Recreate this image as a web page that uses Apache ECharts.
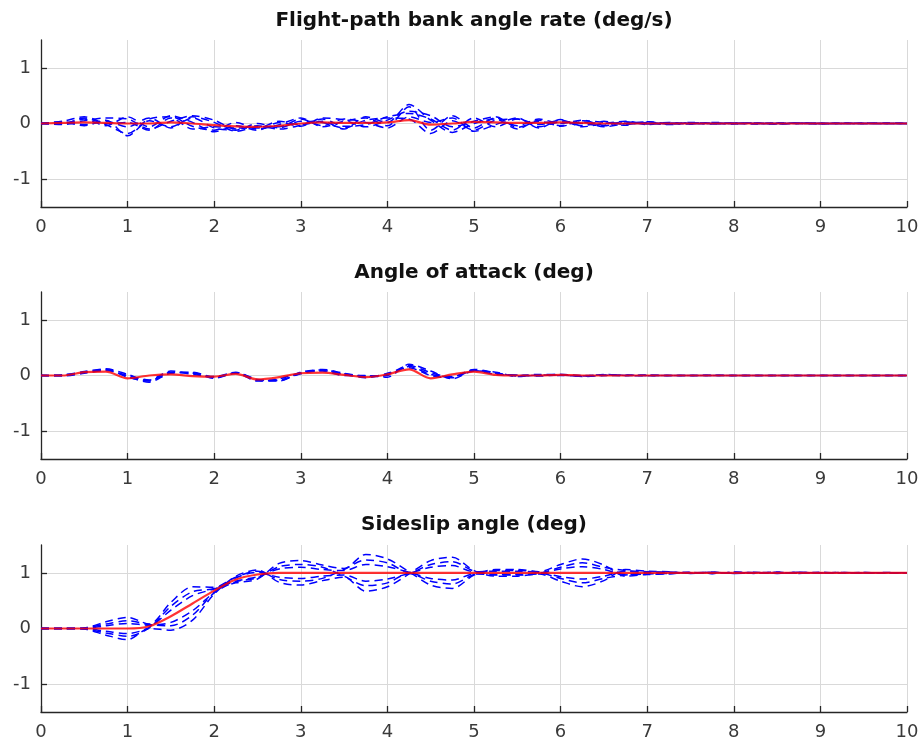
<!DOCTYPE html>
<html>
<head>
<meta charset="utf-8">
<script src="https://cdn.jsdelivr.net/npm/echarts@6/dist/echarts.min.js"></script>
<style>
html,body{margin:0;padding:0;background:#fff;}
#chart{width:924px;height:746px;}
</style>
</head>
<body>
<div id="chart"></div>
<script>
// ---- data ----
const titles = ['Flight-path bank angle rate (deg/s)', 'Angle of attack (deg)', 'Sideslip angle (deg)'];
const xTicks = [0,1,2,3,4,5,6,7,8,9,10];
const yTicks = [-1,0,1];
const time = [0,0.25,0.5,0.75,1,1.25,1.5,1.75,2,2.25,2.5,2.75,3,3.25,3.5,3.75,4,4.25,4.5,4.75,5,5.25,5.5,5.75,6,6.25,6.5,6.75,7,7.25,7.5,7.75,8,8.25,8.5,8.75,9,9.25,9.5,9.75,10];

// Panel 1: flight-path bank angle rate
const bankRef = [0,0.01,0.02,0.01,0,0,0.02,0,-0.03,-0.05,-0.06,-0.04,0,0.02,0.01,0.01,0.02,0.06,-0.02,0,0.03,0.02,0.01,0.01,0.02,0.01,0,0,0,0,0,0,0,0,0,0,0,0,0,0,0];
const bankRun1 = [0,0.04,0.12,-0.02,-0.18,0.08,0.12,-0.05,-0.12,0.02,-0.1,-0.02,0.1,-0.06,0.04,0.1,-0.04,0.3,-0.12,0.14,-0.08,0.1,-0.04,0.08,0,0.06,-0.03,0.03,-0.02,0.02,-0.01,0.01,0,0.01,-0.01,0.01,0,0.01,0,0,0];
const bankRun2 = [0,-0.02,0.05,0.1,0.08,-0.1,0.04,0.14,0.06,-0.1,-0.04,-0.1,-0.03,0.08,-0.05,-0.02,0.12,0.18,0.08,-0.12,0.1,-0.06,0.08,-0.02,0.06,-0.04,0.04,-0.02,0.02,-0.01,0.01,0,0.01,0,-0.01,0,0.01,0,0,0,0];
const bankRun3 = [0,0.02,-0.04,0.06,-0.22,0.05,-0.06,0.1,-0.08,-0.12,0,-0.08,0.04,0.02,-0.08,0.06,0.1,0.08,-0.18,0.05,-0.12,0.06,0.08,-0.06,0.03,0,-0.04,0.02,0.01,-0.02,0.01,0,-0.01,0.01,0,0,-0.01,0,0,0,0];
const bankRun4 = [0,0,0.08,-0.04,0.12,-0.06,0.14,0.02,-0.15,-0.04,-0.12,0.02,-0.05,0.1,0.06,-0.06,0.06,0.22,0.14,-0.06,0.04,0.12,-0.07,0.04,-0.04,0.05,0.02,-0.03,0.03,0,-0.01,0.02,0,-0.01,0.01,0,0,0,0.01,0,0];
const bankRun5 = [0,0.03,-0.02,0.04,-0.06,0.1,-0.08,0.12,0.02,-0.14,-0.06,-0.06,0.08,-0.04,0.08,0.02,-0.08,0.12,0.02,0.1,-0.14,-0.02,0.1,-0.08,0.07,-0.06,0,0.04,-0.01,0.01,0,-0.01,0.01,0,0,0.01,0,0,0,0,0];
const bankRun6 = [0,-0.01,0.1,0,0.02,-0.12,0.1,-0.1,-0.06,-0.08,-0.08,0.04,-0.02,0.04,-0.1,0.12,0.02,0.34,0.06,-0.16,0,0.08,-0.1,0.06,-0.05,0.03,-0.06,0,0.03,-0.01,0.02,0,0,0,0.01,0,0,0,0,0.01,0];

// Panel 2: angle of attack
const aoaRef = [0,0,0.06,0.07,-0.05,0,0.02,-0.01,-0.02,0.03,-0.07,-0.03,0.04,0.05,0.01,-0.03,0.02,0.11,-0.05,0.02,0.07,0.01,0,0,0.01,0,0,0,0,0,0,0,0,0,0,0,0,0,0,0,0];
const aoaRun1 = [0,0.01,0.07,0.12,0.02,-0.1,0.06,0.04,-0.04,0.05,-0.08,-0.1,0.06,0.1,0.03,-0.02,0,0.16,0.02,-0.02,0.1,0.04,0,0.02,0.02,0,0.01,0,0.01,0,0,0.005,0,0,0,0,0,0,0,0,0];
const aoaRun2 = [0,0,0.05,0.1,-0.02,-0.12,0.04,0.05,-0.05,0.04,-0.1,-0.06,0.05,0.08,0,0,-0.03,0.2,0.08,-0.06,0.08,0.06,-0.02,0.01,0,-0.01,0.02,0,-0.005,0,0,0,0,0,0,0,0,0,0,0,0];
const aoaRun3 = [0,-0.01,0.04,0.09,0,-0.08,0.08,0.02,-0.02,0.06,-0.09,-0.08,0.03,0.09,0.02,-0.04,0.04,0.14,0,-0.04,0.09,0.02,0.01,-0.01,0.01,-0.02,0,0.01,0,0,0,0,0,0,0,0,0,0,0,0,0];
const aoaRun4 = [0,0.01,0.06,0.11,-0.03,-0.09,0.05,0.06,-0.03,0.05,-0.07,-0.09,0.04,0.11,0.04,-0.01,0.02,0.18,0.05,-0.03,0.11,0.05,-0.01,0,0.02,-0.01,0,0,0,0,0,0,0,0,0,0,0,0,0,0,0];

// Panel 3: sideslip angle
const slipRef = [0,0,0,0,0,0.04,0.22,0.45,0.68,0.88,0.97,1,1,1,1,1,1,1,1,1,1,1,1,1,1,1,1,1,1,1,1,1,1,1,1,1,1,1,1,1,1];
const slipRun1 = [0,0,0.01,0.12,0.2,0.08,0.47,0.75,0.74,0.82,0.89,1.17,1.22,1.14,1.08,1.33,1.25,1.02,0.78,0.72,0.96,1.06,1.06,1.02,1.15,1.25,1.14,0.94,0.97,0.98,1.01,0.99,1.01,0.99,1.01,0.99,1.01,0.995,1.005,0.995,1];
const slipRun2 = [0,0,-0.01,-0.12,-0.2,0,-0.03,0.15,0.62,0.94,1.05,0.83,0.78,0.86,0.92,0.67,0.75,0.98,1.22,1.28,1.04,0.94,0.94,0.98,0.85,0.75,0.86,1.06,1.03,1.02,0.99,1.01,0.99,1.01,0.99,1.01,0.995,1.005,0.995,1.005,1];
const slipRun3 = [0,0,-0.01,-0.08,-0.14,0.01,0.4,0.66,0.72,0.92,1.03,0.88,0.85,0.9,1.06,1.23,1.18,1.01,1.15,1.2,1.03,0.96,0.96,0.99,1.1,1.18,1.1,1.04,1.02,1.01,1.005,0.99,1.01,1,0.99,1.01,1,0.995,1.005,1,1];
const slipRun4 = [0,0,0.01,0.08,0.14,0.07,0.05,0.24,0.64,0.84,0.91,1.11,1.15,1.1,0.94,0.77,0.82,0.99,0.85,0.8,0.97,1.04,1.04,1.01,0.9,0.82,0.9,0.96,0.98,0.99,0.995,1.01,0.99,1,1.01,0.99,1,1.005,0.995,1,1];
const slipRun5 = [0,0,0,0.05,0.09,0.06,0.11,0.32,0.65,0.91,1.01,0.92,0.9,0.94,0.96,0.85,0.89,0.99,1.1,1.13,1.02,1.03,1.03,1.01,0.93,0.89,0.94,1.03,1.01,1.01,1,0.99,1.01,1,0.995,1.005,1,1,1,1,1];
const slipRun6 = [0,0,0,-0.05,-0.09,0.02,0.33,0.59,0.71,0.85,0.93,1.07,1.1,1.06,1.04,1.15,1.11,1.01,0.9,0.87,0.98,0.97,0.97,0.99,1.07,1.11,1.06,0.97,0.99,0.99,1,1.01,0.99,1,1.005,0.995,1,1,1,1,1];

const panels = [
  {ref: bankRef, runs: [bankRun1,bankRun2,bankRun3,bankRun4,bankRun5,bankRun6]},
  {ref: aoaRef, runs: [aoaRun1,aoaRun2,aoaRun3,aoaRun4]},
  {ref: slipRef, runs: [slipRun1,slipRun2,slipRun3,slipRun4,slipRun5,slipRun6]}
];

// ---- layout ----
const FONT = 'DejaVu Sans, Verdana, sans-serif';
const gridTops = [40, 292, 545];
const titleY = [21, 273, 525];
const gridH = 167;
const axisColor = '#262626';
const gridColor = '#d9d9d9';

const grids = [], xAxes = [], yAxes = [], series = [];
const pairs = arr => arr.map((v, i) => [time[i], v]);

gridTops.forEach((top, k) => {
  grids.push({left: 41, right: 17, top: top, height: gridH});
  xAxes.push({
    type: 'value', gridIndex: k, min: 0, max: 10, interval: 1,
    axisLine: {show: true, onZero: false, lineStyle: {color: axisColor, width: 1.3}},
    axisTick: {show: true, inside: true, length: 6, lineStyle: {color: axisColor, width: 1.3}},
    axisLabel: {show: true, margin: 11, fontSize: 18, color: '#3a3a3a', fontFamily: FONT,
      formatter: v => xTicks.indexOf(v) >= 0 ? String(v) : ''},
    splitLine: {show: true, lineStyle: {color: gridColor, width: 1}}
  });
  yAxes.push({
    type: 'value', gridIndex: k, min: -1.5, max: 1.5,
    axisLine: {show: true, onZero: false, lineStyle: {color: axisColor, width: 1.3}},
    axisTick: {show: true, inside: true, length: 6, customValues: yTicks, lineStyle: {color: axisColor, width: 1.3}},
    axisLabel: {show: true, margin: 10, fontSize: 18, color: '#3a3a3a', fontFamily: FONT, customValues: yTicks},
    splitLine: {show: true, lineStyle: {color: gridColor, width: 1}}
  });
  panels[k].runs.forEach(run => {
    series.push({
      type: 'line', xAxisIndex: k, yAxisIndex: k, data: pairs(run),
      showSymbol: false, smooth: 0.3, silent: true, z: 2,
      lineStyle: {color: '#0000ff', width: 1.5, type: [8, 5]}
    });
  });
  series.push({
    type: 'line', xAxisIndex: k, yAxisIndex: k, data: pairs(panels[k].ref),
    showSymbol: false, smooth: 0.3, silent: true, z: 3,
    lineStyle: {color: '#ff0000', width: 2.2, opacity: 0.8}
  });
});

const chart = echarts.init(document.getElementById('chart'), null, {renderer: 'canvas'});
chart.setOption({
  backgroundColor: '#ffffff',
  animation: false,
  grid: grids,
  xAxis: xAxes,
  yAxis: yAxes,
  series: series,
  graphic: titles.map((txt, k) => ({
    type: 'text', x: 474, y: titleY[k],
    style: {text: txt, fontSize: 20, fontWeight: 'bold', fontFamily: FONT, fill: '#111',
      align: 'center', verticalAlign: 'middle'}
  }))
});
</script>
</body>
</html>
